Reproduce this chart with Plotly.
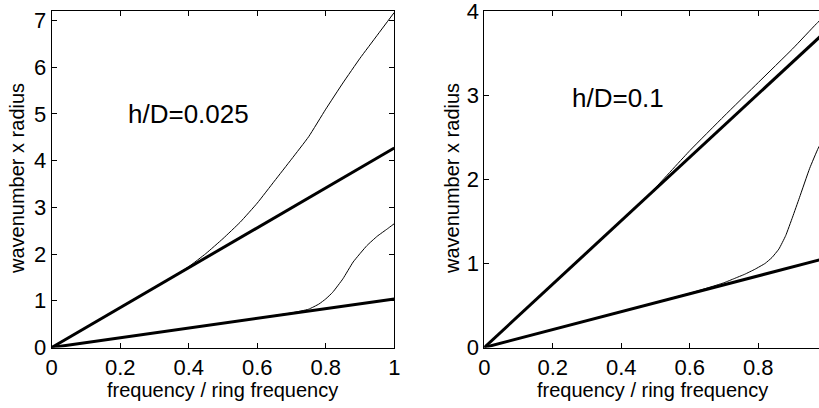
import plotly.graph_objects as go

# ---------------- data ----------------
x_tick_vals = [0, 0.2, 0.4, 0.6, 0.8, 1]
x_tick_text = ["0", "0.2", "0.4", "0.6", "0.8", "1"]
y_ticks_left = [0, 1, 2, 3, 4, 5, 6, 7]
y_ticks_right = [0, 1, 2, 3, 4]

# left panel: h/D = 0.025
L_thick_up_x = [0, 1]
L_thick_up_y = [0, 4.27]
L_thick_lo_x = [0, 1]
L_thick_lo_y = [0, 1.04]
L_thin_up_x = [0, 0.2, 0.35, 0.4, 0.45, 0.5, 0.55, 0.6, 0.65, 0.7, 0.75, 0.8, 0.85, 0.9, 0.95, 1.0]
L_thin_up_y = [0, 0.86, 1.50, 1.73, 2.01, 2.33, 2.68, 3.09, 3.56, 4.03, 4.51, 5.10, 5.66, 6.19, 6.68, 7.17]
L_thin_lo_x = [0, 0.5, 0.7, 0.75, 0.78, 0.8, 0.82, 0.85, 0.88, 0.92, 0.95, 0.98, 1.0]
L_thin_lo_y = [0, 0.52, 0.74, 0.82, 0.93, 1.04, 1.18, 1.47, 1.83, 2.18, 2.38, 2.54, 2.65]

# right panel: h/D = 0.1
R_thick_up_x = [0, 1]
R_thick_up_y = [0, 3.77]
R_thick_lo_x = [0, 1]
R_thick_lo_y = [0, 1.065]
R_thin_up_x = [0, 0.45, 0.5, 0.6, 0.7, 0.8, 0.9, 0.97, 1.0]
R_thin_up_y = [0, 1.70, 1.90, 2.34, 2.75, 3.15, 3.55, 3.85, 3.97]
R_thin_lo_x = [0, 0.6, 0.7, 0.73, 0.76, 0.79, 0.82, 0.84, 0.86, 0.88, 0.90, 0.92, 0.95, 0.975, 1.0]
R_thin_lo_y = [0, 0.645, 0.77, 0.82, 0.87, 0.93, 1.0, 1.07, 1.17, 1.33, 1.55, 1.78, 2.13, 2.37, 2.55]

annot_left = "h/D=0.025"
annot_right = "h/D=0.1"
x_title = "frequency / ring frequency"
y_title = "wavenumber x radius"

FONT = "Arial, Liberation Sans, Helvetica, sans-serif"

fig = go.Figure()

def add(x, y, w, xa, ya, shape="linear"):
    fig.add_trace(go.Scatter(x=x, y=y, mode="lines", xaxis=xa, yaxis=ya,
                             line=dict(color="black", width=w, shape=shape, smoothing=0.4),
                             hoverinfo="skip", showlegend=False))

add(L_thick_up_x, L_thick_up_y, 3, "x", "y")
add(L_thick_lo_x, L_thick_lo_y, 3, "x", "y")
add(L_thin_up_x, L_thin_up_y, 1, "x", "y", "spline")
add(L_thin_lo_x, L_thin_lo_y, 1, "x", "y", "spline")
add(R_thick_up_x, R_thick_up_y, 3, "x2", "y2")
add(R_thick_lo_x, R_thick_lo_y, 3, "x2", "y2")
add(R_thin_up_x, R_thin_up_y, 1, "x2", "y2", "spline")
add(R_thin_lo_x, R_thin_lo_y, 1, "x2", "y2", "spline")

W, H = 819, 408
def px(v):  # page x -> paper fraction
    return v / W
def py(v):  # page y (from top) -> paper fraction
    return (H - v) / H

yd = [py(347.5), py(11)]
ax_common = dict(ticks="inside", ticklen=5, tickcolor="black", showline=True,
                 linecolor="black", linewidth=1, showgrid=False, zeroline=False,
                 ticklabeloverflow="allow",
                 tickfont=dict(family=FONT, size=22, color="black"), automargin=False)

fig.update_layout(
    width=W, height=H, margin=dict(l=0, r=0, t=0, b=0),
    paper_bgcolor="white", plot_bgcolor="white", showlegend=False,
    xaxis=dict(domain=[px(51.7), px(394.3)], range=[0, 1], tickvals=x_tick_vals,
               ticktext=x_tick_text, mirror="ticks", anchor="y", **ax_common),
    yaxis=dict(domain=yd, range=[0, 7.2], tickvals=y_ticks_left, mirror="ticks",
               anchor="x", **ax_common),
    xaxis2=dict(domain=[px(484.3), 1.0], range=[0, (819 - 484.3) / 342.5], tickvals=x_tick_vals,
                ticktext=x_tick_text, mirror="ticks", anchor="y2", **ax_common),
    yaxis2=dict(domain=yd, range=[0, 4.0001], tickvals=y_ticks_right, mirror=False,
                anchor="x2", **ax_common),
)

annots = [
    dict(text=annot_left, x=0.4, y=5.0, xref="x", yref="y", font=dict(size=26)),
    dict(text=annot_right, x=0.39, y=2.97, xref="x2", yref="y2", font=dict(size=26)),
    dict(text=x_title, x=px(223), y=py(390), xref="paper", yref="paper", font=dict(size=20)),
    dict(text=x_title, x=px(652.5), y=py(390), xref="paper", yref="paper", font=dict(size=20)),
    dict(text=y_title, x=px(17), y=py(179), xref="paper", yref="paper", textangle=-90, font=dict(size=20)),
    dict(text=y_title, x=px(452), y=py(179), xref="paper", yref="paper", textangle=-90, font=dict(size=20)),
]
for a in annots:
    a["font"].update(family=FONT, color="black")
    fig.add_annotation(showarrow=False, xanchor="center", yanchor="middle", **a)

fig.write_html("out.html", config={"displayModeBar": False},
               post_script="document.body.style.margin='0';document.body.style.overflow='hidden';")
